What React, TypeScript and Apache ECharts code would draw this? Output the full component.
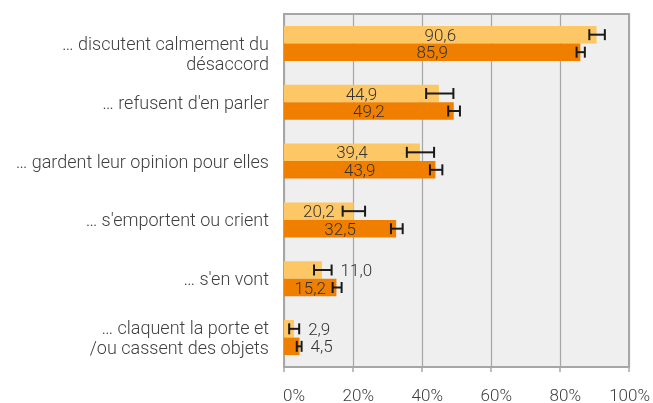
import React, { useEffect, useRef } from "react";
import * as echarts from "echarts";

const categories = [
  "\n… discutent calmement du\ndésaccord",
  "… refusent d'en parler",
  "… gardent leur opinion pour elles",
  "… s'emportent ou crient",
  "… s'en vont",
  "… claquent la porte et\n/ou cassent des objets",
];
const seriesA = [90.6, 44.9, 39.4, 20.2, 11.0, 2.9];
const errLowA = [88.5, 41.2, 35.6, 17.0, 8.7, 1.5];
const errHighA = [93.0, 49.1, 43.5, 23.5, 13.8, 4.4];
const seriesB = [85.9, 49.2, 43.9, 32.5, 15.2, 4.5];
const errLowB = [84.8, 47.6, 42.3, 31.0, 14.1, 3.7];
const errHighB = [87.2, 51.0, 45.9, 34.4, 16.7, 5.1];
const xTicks = [0, 20, 40, 60, 80, 100];

const LIGHT = "#FDC765";
const DARK = "#F07F00";
const BAR_W = 17.5;
const FONT = "Roboto";
const FW = 300;
const FS = 17;
const OUTSIDE_LIMIT = 12;

const fmt = (v: number) => v.toFixed(1).replace(".", ",");

function errSeries(lo: number[], hi: number[], vals: number[], sign: number) {
  return {
    type: "custom",
    z: 5,
    encode: { x: [0, 1], y: 2 },
    data: lo.map((l, i) => [l, hi[i], i, vals[i]]),
    renderItem: (params: any, api: any) => {
      const cat = api.value(2);
      const p0 = api.coord([api.value(0), cat]);
      const p1 = api.coord([api.value(1), cat]);
      const y = p0[1] + (sign * BAR_W) / 2;
      const cap = 5.5;
      const st = { stroke: "#1a1a1a", lineWidth: 2 };
      const children: any[] = [
        { type: "line", shape: { x1: p0[0], y1: y, x2: p1[0], y2: y }, style: st },
        { type: "line", shape: { x1: p0[0], y1: y - cap, x2: p0[0], y2: y + cap }, style: st },
        { type: "line", shape: { x1: p1[0], y1: y - cap, x2: p1[0], y2: y + cap }, style: st },
      ];
      const v = api.value(3);
      if (v < OUTSIDE_LIMIT) {
        children.push({
          type: "text",
          x: p1[0] + 9,
          y: y,
          style: {
            text: fmt(v),
            fill: "#333",
            fontSize: FS,
            fontWeight: FW,
            fontFamily: FONT,
            lineHeight: 16,
            align: "left",
            verticalAlign: "middle",
          },
        });
      }
      return { type: "group", children };
    },
  };
}

function barSeries(vals: number[], color: string) {
  return {
    type: "bar",
    barWidth: BAR_W,
    barGap: "0%",
    itemStyle: { color },
    data: vals.map((v) => ({
      value: v,
      label: { show: v >= OUTSIDE_LIMIT },
    })),
    label: {
      position: "inside",
      color: "#333",
      fontSize: FS,
      fontWeight: FW,
      fontFamily: FONT,
      formatter: (p: any) => fmt(p.value),
    },
  };
}

export default function App() {
  const ref = useRef<HTMLDivElement>(null);
  useEffect(() => {
    if (!ref.current) return;
    const chart = echarts.init(ref.current, undefined, { renderer: "svg" });
    chart.setOption({
      animation: false,
      textStyle: { fontFamily: FONT },
      grid: {
        left: 284,
        right: 23.5,
        top: 14,
        bottom: 35.5,
        show: true,
        backgroundColor: "#efefef",
        borderColor: "#a6a6a6",
        borderWidth: 2,
      },
      xAxis: {
        type: "value",
        min: xTicks[0],
        max: xTicks[xTicks.length - 1],
        interval: 20,
        axisLine: { show: true, lineStyle: { color: "#a6a6a6", width: 2 } },
        axisTick: { show: true, length: 5, lineStyle: { color: "#a6a6a6", width: 1.5 } },
        splitLine: { show: true, lineStyle: { color: "#a6a6a6", width: 1.2 } },
        axisLabel: {
          formatter: (v: number) => `${v}%`,
          fontSize: FS,
          fontWeight: FW,
          color: "#404040",
          fontFamily: FONT,
          margin: 19,
          align: "right",
          padding: [0, -21, 0, 0],
        },
      },
      yAxis: {
        type: "category",
        inverse: true,
        data: categories,
        axisLine: { show: false },
        axisTick: { show: false },
        axisLabel: {
          fontSize: 18,
          fontWeight: FW,
          lineHeight: 20,
          color: "#404040",
          fontFamily: FONT,
          margin: 15,
          align: "right",
        },
      },
      series: [
        barSeries(seriesA, LIGHT),
        barSeries(seriesB, DARK),
        errSeries(errLowA, errHighA, seriesA, -1),
        errSeries(errLowB, errHighB, seriesB, 1),
      ],
    });
    return () => chart.dispose();
  }, []);
  return (
    <div
      ref={ref}
      style={{ position: "fixed", left: 0, top: 0, width: 653, height: 403 }}
    />
  );
}
